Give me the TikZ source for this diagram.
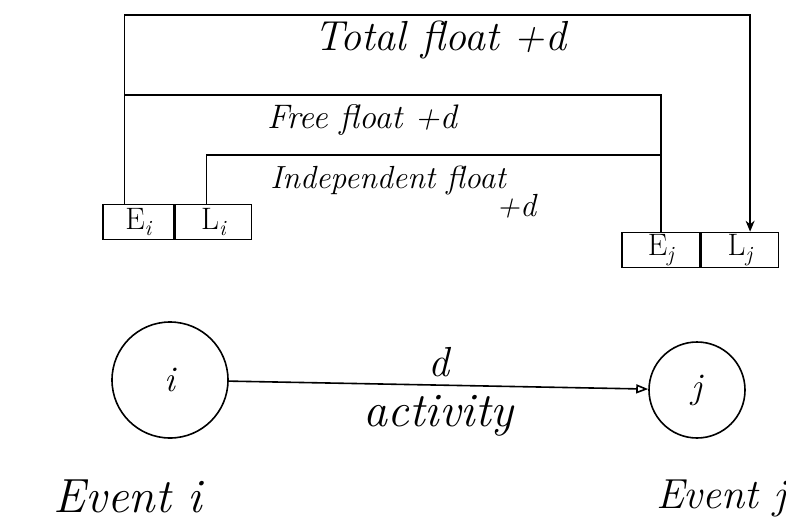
\documentclass[tikz,border=0pt]{standalone}
\usepackage{fontspec}
\usepackage{tikz}
\usetikzlibrary{arrows.meta, positioning}

\begin{document}
\begin{tikzpicture}[x=1pt, y=-1pt, line width=1.6pt,
		hand/.style={font=\fontsize{#1}{#1}\selectfont\itshape},
		hand/.default=36,
		cell/.style={draw, minimum height=35pt, inner sep=0pt, font=\fontsize{31}{32}\selectfont},
		event/.style={draw, circle, font=\fontsize{36}{36}\selectfont\itshape}]
				\useasboundingbox (0,0) rectangle (786,527);
				
				% Earliest / latest times of both events
				\node[cell, minimum width=71pt] (ei) at (138.5,222) {E\textsubscript{\itshape i}};
				\node[cell, minimum width=76pt, right=0pt of ei] (li) {L\textsubscript{\itshape i}};
				\node[cell, minimum width=78pt] (ej) at (661,250) {E\textsubscript{\itshape j}};
				\node[cell, minimum width=77pt, right=0pt of ej] (lj) {L\textsubscript{\itshape j}};
				
				% Corners of the three float brackets
				\coordinate (tf) at (0,15);
				\coordinate (ff) at (0,95);
				\coordinate (if) at (0,155);
				
				% Total float: Ei to Lj
				\draw[-{Stealth[length=11pt, width=9pt]}] ([xshift=-14pt]ei.north) -- ([xshift=-14pt]ei.north |- tf) -| ([xshift=10pt]lj.north);
				\node[hand=42] (tflabel) at (440,40) {Total float +d};
				
				% Free float: Ei to Ej
				\draw ([xshift=-14pt]ei.north |- ff) -| (ej.north);
				\node[hand=34] (fflabel) at (362,120) {Free float +d};
				
				% Independent float: Li to Ej
				\draw ([xshift=-7pt]li.north) -- ([xshift=-7pt]li.north |- if) -- (ej.north |- if);
				\node[hand=32] (iflabel) at (388,180) {Independent float};
				\node[hand=32] (idlabel) at (516,206) {+d};
				
				% Activity between the two events
				\node[event, minimum size=116pt] (i) at (170,380) {i};
				\node[event, minimum size=96pt] (j) at (697,390) {j};
				\draw[-{Triangle[open, length=12pt, width=9pt]}] (i) -- (j)
					node[midway, above=4pt, hand=42] (dlabel) {d}
					node[midway, below=6pt, hand=48] (actlabel) {activity};
				
				\node[hand=48] (evi) at (128,496) {Event i};
				\node[hand=42, anchor=west] (evj) at (652,498) {Event j};
			\end{tikzpicture}
\end{document}
